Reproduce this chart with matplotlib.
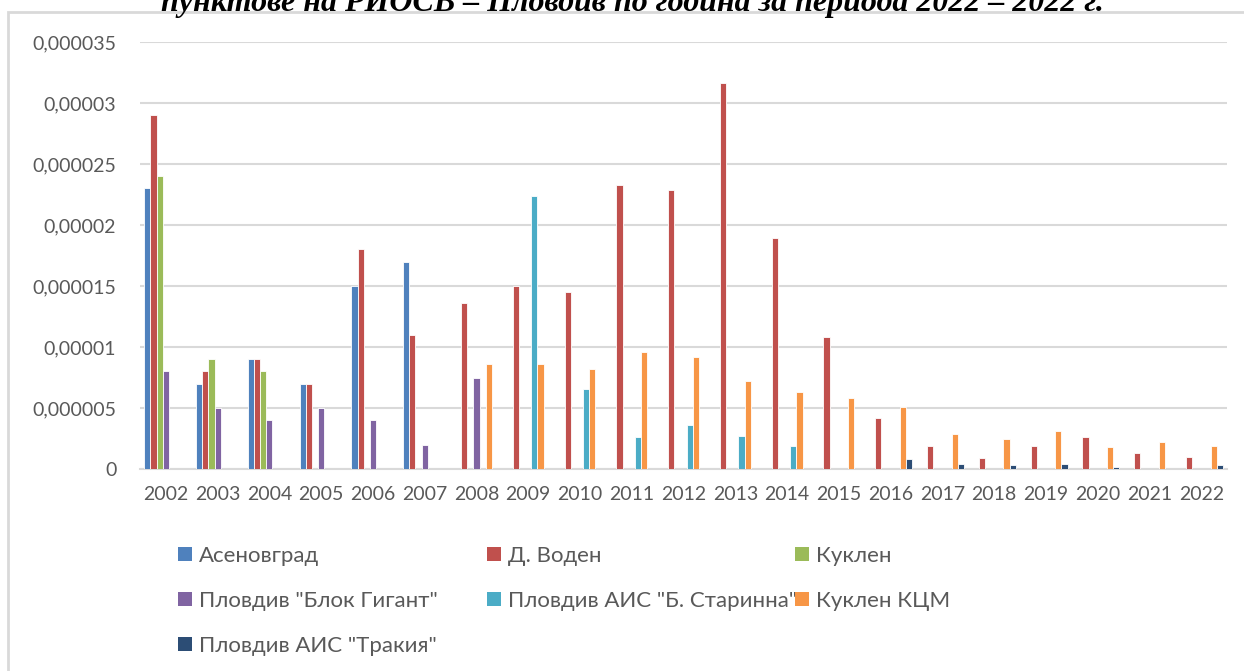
import numpy as np
import matplotlib
matplotlib.use("Agg")
from matplotlib import pyplot as plt
from matplotlib.patches import Rectangle, Patch

nan = np.nan
years = [str(y) for y in range(2002, 2023)]

asenovgrad = [2.3e-5, 7e-6, 9e-6, 7e-6, 1.5e-5, 1.7e-5] + [nan] * 15
voden = [2.9e-5, 8e-6, 9e-6, 7e-6, 1.8e-5, 1.1e-5, 1.36e-5, 1.5e-5, 1.45e-5, 2.33e-5, 2.29e-5,
         3.16e-5, 1.89e-5, 1.08e-5, 4.2e-6, 1.9e-6, 0.9e-6, 1.9e-6, 2.6e-6, 1.3e-6, 1.0e-6]
kuklen = [2.4e-5, 9e-6, 8e-6] + [nan] * 18
blok_gigant = [8e-6, 5e-6, 4e-6, 5e-6, 4e-6, 2e-6, 7.5e-6] + [nan] * 14
starinna = [nan] * 7 + [2.24e-5, 6.6e-6, 2.6e-6, 3.6e-6, 2.7e-6, 1.9e-6] + [nan] * 8
kuklen_kcm = [nan] * 6 + [8.6e-6, 8.6e-6, 8.2e-6, 9.6e-6, 9.2e-6, 7.2e-6, 6.3e-6, 5.8e-6,
                          5.1e-6, 2.9e-6, 2.5e-6, 3.1e-6, 1.8e-6, 2.2e-6, 1.9e-6]
trakia = [nan] * 14 + [8e-7, 4e-7, 3e-7, 4e-7, 2e-7, nan, 3e-7]

series = [
    ("Асеновград", asenovgrad, "#4F81BD"),
    ("Д. Воден", voden, "#C0504D"),
    ("Куклен", kuklen, "#9BBB59"),
    ('Пловдив "Блок Гигант"', blok_gigant, "#8064A2"),
    ('Пловдив АИС "Б. Старинна"', starinna, "#4BACC6"),
    ("Куклен КЦМ", kuklen_kcm, "#F79646"),
    ('Пловдив АИС "Тракия"', trakia, "#2C4D75"),
]

yticks = [0, 5e-6, 1e-5, 1.5e-5, 2e-5, 2.5e-5, 3e-5, 3.5e-5]
ytick_labels = ["0", "0,000005", "0,00001", "0,000015", "0,00002", "0,000025", "0,00003", "0,000035"]

plt.rcParams['font.family'] = ['Lato', 'DejaVu Sans']
txt_color = "#595959"
grid_color = "#D9D9D9"

fig = plt.figure(figsize=(12.44, 6.71), dpi=100)
ax = fig.add_axes([0.1125, 0.301, 0.874, 0.6364])

x = np.arange(len(years))
w = 0.119
for i, (name, vals, col) in enumerate(series):
    ax.bar(x + (i - 3) * w, vals, width=w, color=col, edgecolor="white", linewidth=0.6,
           label=name, zorder=3)

ax.set_xlim(-0.5, len(years) - 0.5)
ax.set_ylim(0, 3.5e-5)
ax.set_yticks(yticks)
ax.set_yticklabels(ytick_labels)
ax.set_xticks(x)
ax.set_xticklabels(years)
ax.tick_params(length=0, labelsize=14, colors=txt_color)
ax.tick_params(axis='y', pad=17)
ax.tick_params(axis='x', pad=12)
ax.grid(axis='y', color=grid_color, linewidth=1.5, zorder=0)
for s in ['top', 'right', 'left']:
    ax.spines[s].set_visible(False)
ax.spines['bottom'].set_color(grid_color)
ax.spines['bottom'].set_linewidth(1.5)

# outer chart frame
fig.patches.append(Rectangle((8 / 1244, -0.05), 1.2, 1 - 12 / 671 + 0.05, transform=fig.transFigure,
                             fill=False, edgecolor=grid_color, linewidth=2))

# title is cut at the top edge, as in the source
fig.text(0.508, 1 - 11.5 / 671, "пунктове на РИОСВ – Пловдив по година за периода 2022 – 2022 г.",
         ha='center', va='baseline', fontsize=23, fontweight='bold', fontstyle='italic',
         family=['Liberation Serif', 'DejaVu Serif'], color='black')

# legend, three columns like Excel
cols = [[0, 3, 6], [1, 4], [2, 5]]
col_x = [178 / 1244, 487 / 1244, 795 / 1244]
for cx, idxs in zip(col_x, cols):
    handles = [Patch(facecolor=series[k][2], edgecolor='none') for k in idxs]
    labels = [series[k][0] for k in idxs]
    leg = fig.legend(handles, labels, loc='upper left', bbox_to_anchor=(cx, 1 - 546 / 671),
                     frameon=False, fontsize=16, handlelength=0.63, handleheight=0.63,
                     handletextpad=0.3, labelspacing=1.12, borderaxespad=0, borderpad=0)
    for t in leg.get_texts():
        t.set_color(txt_color)

fig.savefig("out.png", dpi=100)
